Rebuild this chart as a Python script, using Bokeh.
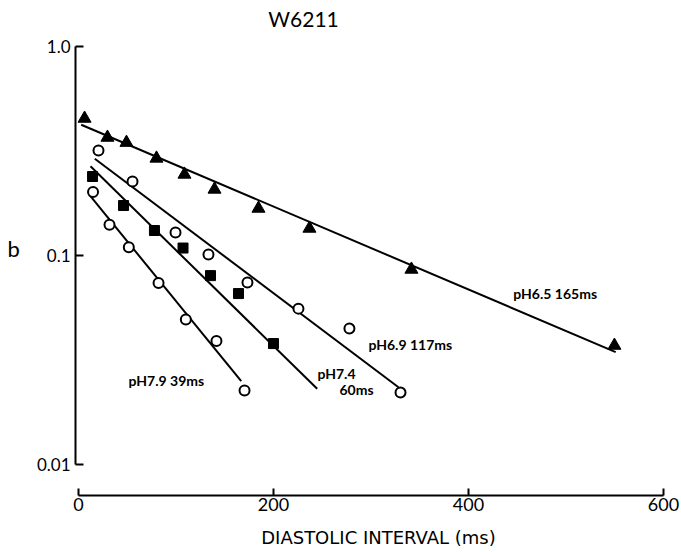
from bokeh.plotting import figure
from bokeh.models import FixedTicker, Label
from bokeh.embed import file_html
from bokeh.resources import INLINE

# ---- data ----
ph65_x = [6.2, 29.7, 49.2, 80.0, 108.7, 139.5, 184.6, 236.9, 341.5, 549.7]
ph65_b = [0.450, 0.365, 0.345, 0.290, 0.243, 0.206, 0.167, 0.134, 0.0853, 0.0369]
ph65_fit_x = [2.8, 551.0]
ph65_fit_b = [0.420, 0.0343]

ph69_x = [20.5, 55.4, 99.5, 133.3, 173.3, 225.6, 277.9, 330.3]
ph69_b = [0.316, 0.225, 0.128, 0.1005, 0.0738, 0.0554, 0.0445, 0.0220]
ph69_fit_x = [16.7, 328.2]
ph69_fit_b = [0.289, 0.0233]

ph74_x = [14.4, 46.2, 77.9, 107.2, 135.4, 164.1, 200.0]
ph74_b = [0.2375, 0.1725, 0.131, 0.108, 0.0797, 0.0654, 0.0377]
ph74_fit_x = [12.3, 244.8]
ph74_fit_b = [0.266, 0.0229]

ph79_x = [14.9, 31.8, 51.6, 82.1, 110.1, 141.5, 170.3]
ph79_b = [0.200, 0.1395, 0.109, 0.0735, 0.0491, 0.0388, 0.0225]
ph79_fit_x = [11.6, 166.9]
ph79_fit_b = [0.193, 0.0249]

x_ticks = [0, 200, 400, 600]
y_ticks = [0.01, 0.1, 1.0]
y_tick_labels = ["0.01", "0.1", "1.0"]

series_labels = ["pH6.5 165ms", "pH6.9 117ms", "pH7.4", "60ms", "pH7.9 39ms"]
series_label_x = [446, 297.4, 245.1, 267.7, 51.3]
series_label_b = [0.0655, 0.0373, 0.0271, 0.0227, 0.0251]

title_text = "W6211"
title_x = 230.8
title_b = 1.354

FONT = "Lato"

p = figure(width=681, height=552, output_backend="svg", toolbar_location=None,
           y_axis_type="log", x_range=(-3.08, 618.5), y_range=(0.00707, 1.651),
           min_border_left=75, min_border_right=0, min_border_top=0,
           min_border_bottom=57)
p.outline_line_color = None
p.grid.visible = False
p.background_fill_color = "white"

# axes
xa = p.xaxis[0]
xa.ticker = FixedTicker(ticks=x_ticks)
xa.bounds = (0, 600)
xa.major_tick_in = 7
xa.major_tick_out = 0
xa.minor_tick_line_color = None
xa.axis_line_width = 2
xa.major_tick_line_width = 2
xa.major_label_standoff = 2
xa.major_label_text_font = FONT
xa.major_label_text_font_size = "18px"
xa.major_label_text_color = "black"
xa.axis_label = "DIASTOLIC INTERVAL (ms)"
xa.axis_label_text_font = "DejaVu Sans"
xa.axis_label_text_font_style = "normal"
xa.axis_label_text_font_size = "18px"
xa.axis_label_standoff = 13
xa.axis_label_text_color = "black"

ya = p.yaxis[0]
ya.ticker = FixedTicker(ticks=y_ticks)
ya.major_label_overrides = {t: s for t, s in zip(y_ticks, y_tick_labels)}
ya.bounds = (0.01, 1.0)
ya.major_tick_in = 8
ya.major_tick_out = 0
ya.minor_tick_line_color = None
ya.axis_line_width = 2
ya.major_tick_line_width = 2
ya.major_label_standoff = 5
ya.major_label_text_font = FONT
ya.major_label_text_font_size = "17px"
ya.major_label_text_color = "black"
ya.axis_label = "b"
ya.axis_label_orientation = "horizontal"
ya.axis_label_text_font = FONT
ya.axis_label_text_font_style = "normal"
ya.axis_label_text_font_size = "22px"
ya.axis_label_standoff = 14
ya.axis_label_text_color = "black"

# fit lines
for fx, fb in [(ph65_fit_x, ph65_fit_b), (ph69_fit_x, ph69_fit_b),
               (ph74_fit_x, ph74_fit_b), (ph79_fit_x, ph79_fit_b)]:
    p.line(fx, fb, line_color="black", line_width=2)

# points
p.scatter(ph65_x, ph65_b, marker="triangle", size=13, fill_color="black", line_color="black")
p.scatter(ph74_x, ph74_b, marker="square", size=10, fill_color="black", line_color="black")
p.scatter(ph69_x, ph69_b, marker="circle", size=10, fill_color="white", line_color="black", line_width=2)
p.scatter(ph79_x, ph79_b, marker="circle", size=10, fill_color="white", line_color="black", line_width=2)

# series annotations
for t, lx, lb in zip(series_labels, series_label_x, series_label_b):
    p.add_layout(Label(x=lx, y=lb, text=t, text_font=FONT, text_font_size="14px",
                       text_font_style="bold", text_baseline="middle", text_align="left",
                       text_color="black"))

p.add_layout(Label(x=title_x, y=title_b, text=title_text, text_font=FONT,
                   text_font_size="21px", text_baseline="middle", text_align="center",
                   text_color="black"))

open("out.html", "w").write(file_html(p, INLINE))
